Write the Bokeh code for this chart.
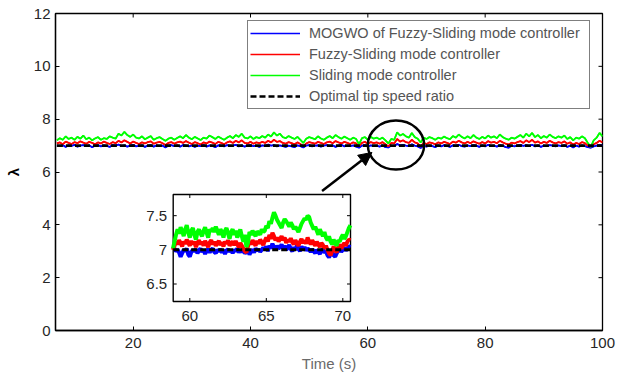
import numpy as np
from bokeh.plotting import figure
from bokeh.models import (Range1d, Legend, LegendItem, Arrow, NormalHead, FixedTicker)
from bokeh.core.properties import value
from bokeh.embed import file_html
from bokeh.resources import INLINE

# ---------------- data ----------------
# main view sampling grid (s)
time = [7.0 + 0.5 * i for i in range(187)]

sliding = [
    7.20, 7.28, 7.22, 7.35, 7.25, 7.30, 7.22, 7.33, 7.26, 7.38,
    7.24, 7.30, 7.20, 7.27, 7.32, 7.22, 7.28, 7.25, 7.35, 7.30,
    7.26, 7.45, 7.38, 7.52, 7.40, 7.33, 7.42, 7.30, 7.27, 7.35,
    7.24, 7.30, 7.36, 7.22, 7.28, 7.32, 7.25, 7.18, 7.26, 7.30,
    7.22, 7.29, 7.35, 7.28, 7.40, 7.30, 7.24, 7.33, 7.27, 7.21,
    7.30, 7.26, 7.38, 7.32, 7.25, 7.34, 7.28, 7.22, 7.30, 7.36,
    7.28, 7.40, 7.33, 7.45, 7.30, 7.27, 7.35, 7.25, 7.32, 7.28,
    7.36, 7.30, 7.42, 7.34, 7.50, 7.38, 7.45, 7.32, 7.28, 7.36,
    7.30, 7.25, 7.33, 7.22, 7.10, 7.26, 7.32, 7.28, 7.24, 7.35,
    7.27, 7.22, 7.30, 7.36, 7.28, 7.40, 7.32, 7.26, 7.34, 7.28,
    7.22, 7.30, 7.25, 7.05, 7.28, 7.32, 7.22, 7.33, 7.26, 7.30,
    7.24, 7.30, 7.20, 7.08, 7.25, 7.22, 7.50, 7.38, 7.44, 7.35,
    7.30, 7.48, 7.32, 7.26, 7.12, 7.30, 7.25, 7.32, 7.28, 7.22,
    7.30, 7.26, 7.34, 7.28, 7.24, 7.36, 7.30, 7.42, 7.33, 7.27,
    7.35, 7.28, 7.40, 7.30, 7.25, 7.33, 7.27, 7.38, 7.30, 7.35,
    7.28, 7.42, 7.32, 7.26, 7.22, 7.30, 7.26, 7.33, 7.40, 7.30,
    7.45, 7.35, 7.48, 7.32, 7.40, 7.28, 7.36, 7.30, 7.42, 7.33,
    7.28, 7.35, 7.30, 7.38, 7.25, 7.32, 7.20, 7.30, 7.26, 7.35,
    7.28, 7.10, 6.95, 7.20, 7.30, 7.48, 7.35]

fuzzy = [
    7.08, 7.12, 7.05, 7.15, 7.10, 7.06, 7.13, 7.09, 7.16, 7.11,
    7.07, 7.14, 7.10, 7.05, 7.12, 7.08, 7.15, 7.10, 7.06, 7.13,
    7.09, 7.18, 7.12, 7.20, 7.14, 7.08, 7.15, 7.10, 7.06, 7.12,
    7.08, 7.13, 7.16, 7.07, 7.11, 7.14, 7.09, 7.02, 7.10, 7.13,
    7.07, 7.12, 7.15, 7.10, 7.17, 7.11, 7.06, 7.13, 7.09, 7.04,
    7.12, 7.08, 7.15, 7.11, 7.06, 7.14, 7.10, 7.05, 7.12, 7.16,
    7.10, 7.18, 7.12, 7.20, 7.10, 7.08, 7.14, 7.07, 7.12, 7.09,
    7.14, 7.10, 7.18, 7.12, 7.22, 7.14, 7.17, 7.10, 7.07, 7.13,
    7.09, 7.05, 7.12, 7.06, 6.98, 7.08, 7.13, 7.10, 7.07, 7.14,
    7.10, 7.06, 7.12, 7.15, 7.09, 7.17, 7.12, 7.08, 7.14, 7.10,
    7.06, 7.12, 7.08, 6.98, 7.10, 7.14, 7.07, 7.13, 7.09, 7.12,
    7.07, 7.13, 7.05, 6.97, 7.10, 7.08, 7.25, 7.15, 7.20, 7.13,
    7.10, 7.22, 7.12, 7.08, 6.96, 7.10, 7.06, 7.12, 7.09, 7.05,
    7.12, 7.08, 7.14, 7.10, 7.06, 7.15, 7.11, 7.18, 7.12, 7.08,
    7.14, 7.09, 7.16, 7.11, 7.07, 7.13, 7.08, 7.17, 7.11, 7.14,
    7.09, 7.18, 7.12, 7.07, 7.04, 7.11, 7.08, 7.13, 7.17, 7.10,
    7.20, 7.13, 7.22, 7.11, 7.16, 7.08, 7.14, 7.10, 7.18, 7.12,
    7.08, 7.13, 7.10, 7.16, 7.07, 7.12, 7.04, 7.10, 7.06, 7.13,
    7.09, 7.00, 6.96, 7.05, 7.10, 7.18, 7.12]

mogwo = [
    7.00, 6.98, 7.02, 6.95, 7.01, 6.99, 7.03, 6.96, 7.00, 7.02,
    6.98, 7.01, 6.94, 7.00, 7.02, 6.97, 7.01, 6.99, 6.95, 7.02,
    7.00, 7.04, 6.98, 7.01, 6.96, 7.00, 7.03, 6.97, 6.99, 7.01,
    6.95, 7.00, 7.02, 6.96, 7.01, 6.98, 7.00, 6.93, 7.00, 7.02,
    6.98, 7.01, 6.96, 7.02, 7.00, 6.97, 7.01, 6.95, 7.00, 6.98,
    7.02, 6.96, 7.01, 6.99, 6.94, 7.01, 7.00, 6.97, 7.02, 6.99,
    7.00, 7.03, 6.97, 7.01, 6.96, 7.00, 7.02, 6.98, 7.00, 6.95,
    7.01, 6.99, 7.04, 7.00, 7.02, 6.97, 7.01, 6.98, 6.95, 7.00,
    6.97, 6.94, 7.01, 6.98, 6.93, 7.00, 7.02, 6.97, 7.00, 7.01,
    6.96, 7.00, 7.02, 6.98, 7.01, 6.95, 7.00, 7.03, 6.97, 7.00,
    6.98, 7.01, 6.96, 6.92, 7.00, 7.02, 6.97, 7.01, 6.99, 7.00,
    6.96, 7.01, 6.94, 6.93, 7.00, 6.98, 7.06, 7.01, 7.03, 7.00,
    6.98, 7.05, 7.00, 6.97, 6.91, 7.00, 6.96, 7.01, 6.98, 6.94,
    7.01, 6.97, 7.02, 6.99, 6.95, 7.01, 7.00, 7.03, 6.98, 6.96,
    7.01, 6.98, 7.02, 7.00, 6.95, 7.01, 6.97, 7.03, 6.99, 7.00,
    6.96, 7.02, 7.00, 6.94, 6.92, 7.00, 6.97, 7.01, 7.03, 6.99,
    7.02, 6.98, 7.03, 6.97, 7.01, 6.95, 7.00, 6.98, 7.02, 7.00,
    6.97, 7.01, 6.98, 7.02, 6.95, 7.00, 6.93, 7.00, 6.96, 7.01,
    6.98, 6.94, 6.92, 6.97, 7.00, 7.03, 7.01]

optimal_ratio = 7.0

# zoomed (inset) sampling grid (s)
inset_time = [58.9 + 0.1 * i for i in range(117)]

inset_sliding = [
    7.02, 7.12, 7.22, 7.30, 7.24, 7.33, 7.28, 7.20, 7.30, 7.36,
    7.25, 7.18, 7.28, 7.32, 7.22, 7.15, 7.26, 7.30, 7.24, 7.20,
    7.28, 7.33, 7.25, 7.18, 7.30, 7.27, 7.32, 7.26, 7.34, 7.28,
    7.22, 7.30, 7.26, 7.18, 7.28, 7.32, 7.24, 7.16, 7.26, 7.30,
    7.22, 7.28, 7.18, 7.24, 7.30, 7.20, 7.12, 7.22, 7.04, 7.10,
    7.26, 7.22, 7.28, 7.24, 7.20, 7.27, 7.25, 7.22, 7.30, 7.26,
    7.28, 7.35, 7.32, 7.42, 7.38, 7.47, 7.55, 7.50, 7.44, 7.40,
    7.36, 7.32, 7.40, 7.45, 7.42, 7.38, 7.34, 7.40, 7.36, 7.30,
    7.34, 7.30, 7.26, 7.32, 7.38, 7.42, 7.46, 7.44, 7.50, 7.48,
    7.40, 7.35, 7.30, 7.34, 7.28, 7.22, 7.30, 7.25, 7.20, 7.26,
    7.18, 7.14, 7.20, 7.12, 7.08, 7.15, 7.10, 7.06, 7.14, 7.12,
    7.18, 7.22, 7.16, 7.20, 7.26, 7.32, 7.36]

inset_fuzzy = [
    7.00, 7.06, 7.12, 7.08, 7.14, 7.10, 7.05, 7.12, 7.09, 7.15,
    7.10, 7.06, 7.13, 7.08, 7.12, 7.04, 7.10, 7.14, 7.08, 7.12,
    7.06, 7.13, 7.09, 7.04, 7.11, 7.14, 7.08, 7.12, 7.06, 7.10,
    7.13, 7.07, 7.11, 7.05, 7.12, 7.09, 7.14, 7.06, 7.10, 7.12,
    7.07, 7.13, 7.08, 7.04, 7.10, 7.06, 7.02, 6.98, 6.96, 7.05,
    7.12, 7.08, 7.14, 7.10, 7.06, 7.13, 7.09, 7.15, 7.11, 7.07,
    7.13, 7.18, 7.12, 7.22, 7.16, 7.25, 7.20, 7.14, 7.18, 7.12,
    7.16, 7.20, 7.14, 7.18, 7.10, 7.15, 7.12, 7.17, 7.11, 7.08,
    7.14, 7.10, 7.06, 7.12, 7.16, 7.10, 7.14, 7.09, 7.18, 7.12,
    7.08, 7.14, 7.10, 7.06, 7.12, 7.08, 7.04, 7.10, 7.07, 7.02,
    7.06, 7.00, 6.95, 6.92, 6.98, 7.05, 7.00, 6.96, 7.04, 7.08,
    7.02, 7.06, 7.10, 7.06, 7.12, 7.15, 7.14]

inset_mogwo = [
    7.00, 7.02, 6.98, 7.00, 6.96, 6.90, 6.95, 7.00, 6.98, 7.02,
    6.93, 6.90, 6.97, 7.00, 6.98, 7.01, 6.95, 6.99, 7.02, 6.97,
    7.00, 6.94, 6.99, 7.01, 6.96, 7.00, 7.02, 6.97, 6.95, 7.00,
    6.98, 7.01, 6.96, 7.00, 6.94, 6.99, 7.01, 6.97, 7.00, 6.95,
    7.00, 6.98, 7.02, 6.96, 7.00, 6.97, 6.99, 6.95, 6.97, 7.00,
    6.93, 6.98, 7.00, 6.96, 7.02, 6.99, 7.01, 6.97, 7.00, 7.03,
    7.00, 7.05, 6.98, 7.06, 7.02, 7.09, 7.04, 7.00, 7.06, 7.02,
    7.04, 7.08, 7.02, 7.06, 7.00, 7.03, 7.07, 7.01, 6.98, 7.04,
    7.00, 7.06, 7.02, 6.98, 7.05, 7.01, 7.04, 6.99, 7.02, 7.00,
    6.97, 7.01, 6.98, 6.95, 7.00, 6.97, 6.94, 6.99, 7.01, 6.96,
    6.98, 6.92, 6.89, 6.94, 6.97, 6.92, 6.90, 6.95, 6.99, 7.02,
    6.97, 7.00, 7.03, 6.99, 7.02, 7.05, 7.04]

x_ticks = [20, 40, 60, 80, 100]
y_ticks = [0, 2, 4, 6, 8, 10, 12]
inset_x_ticks = [60, 65, 70]
inset_y_ticks = [6.5, 7, 7.5]
inset_x_labels = ["60", "65", "70"]
inset_y_labels = ["6.5", "7", "7.5"]

labels = ["MOGWO of Fuzzy-Sliding mode controller", "Fuzzy-Sliding mode controller",
          "Sliding mode controller", "Optimal tip speed ratio"]
colors = ["#0000FF", "#FF0000", "#00FF00", "#000000"]

# ---------------- layout ----------------
FONT = "Liberation Sans"
W, H = 621, 376
fl, fr, ft, fb = 55, 602, 13, 330          # frame box inside the figure (px)
x_lo, x_hi = 6.76, 100.0
y_lo, y_hi = 0.0, 12.0
upx = (x_hi - x_lo) / (fr - fl)
upy = (y_hi - y_lo) / (fb - ft)

# inset box in figure px and its data limits
ib_l, ib_r, ib_t, ib_b = 172.7, 350.0, 194.0, 301.0
ix_lo, ix_hi = 58.915, 70.503
iy_lo, iy_hi = 6.244, 7.81
ux = (ix_hi - ix_lo) / (ib_r - ib_l)
uy = (iy_hi - iy_lo) / (ib_b - ib_t)
ex_start = ix_lo - (ib_l - fl) * ux
ex_end = ix_hi + (fr - ib_r) * ux
ey_start = iy_lo - (fb - ib_b) * uy
ey_end = iy_hi + (ib_t - ft) * uy

p = figure(width=W, height=H, output_backend="svg", toolbar_location=None,
           x_range=Range1d(x_lo, x_hi), y_range=Range1d(y_lo, y_hi),
           min_border_left=fl, min_border_right=W - fr, min_border_top=ft,
           min_border_bottom=H - fb)
p.extra_x_ranges = {"ix": Range1d(ex_start, ex_end)}
p.extra_y_ranges = {"iy": Range1d(ey_start, ey_end)}
p.xgrid.visible = False
p.ygrid.visible = False
p.outline_line_color = "black"
p.outline_line_width = 1.3
p.background_fill_color = "white"
p.border_fill_color = "white"

for ax, ticks in ((p.xaxis[0], x_ticks), (p.yaxis[0], y_ticks)):
    ax.ticker = FixedTicker(ticks=ticks)
    ax.minor_tick_line_color = None
    ax.major_tick_in = 4
    ax.major_tick_out = 0
    ax.axis_line_width = 1.3
    ax.major_tick_line_width = 1
    ax.major_label_text_font = FONT
    ax.major_label_text_font_size = "15px"
    ax.major_label_text_color = "#262626"
    ax.axis_label_text_font = FONT

p.xaxis.axis_label = "Time (s)"
p.xaxis.axis_label_text_font_style = "normal"
p.xaxis.axis_label_text_font_size = "15px"
p.xaxis.axis_label_text_color = "#6a6a6a"
p.xaxis.major_label_standoff = 7
p.xaxis.axis_label_standoff = 4

p.yaxis.axis_label = "λ"
p.yaxis.axis_label_text_font_style = "bold"
p.yaxis.axis_label_text_font_size = "15px"
p.yaxis.axis_label_text_color = "#000000"
p.yaxis.major_label_standoff = 5
p.yaxis.axis_label_standoff = 9

# inward ticks on the right and top frame edges
p.segment(x0=[x_hi] * len(y_ticks), y0=y_ticks, x1=[x_hi - 4 * upx] * len(y_ticks),
          y1=y_ticks, line_color="black", line_width=1)
p.segment(x0=x_ticks, y0=[y_hi] * len(x_ticks), x1=x_ticks,
          y1=[y_hi - 4 * upy] * len(x_ticks), line_color="black", line_width=1)

# thin proxies for the legend (hidden under the thicker traces)
proxies = [p.line(time, s, line_color=c, line_width=1.4)
           for s, c in zip((mogwo, fuzzy, sliding), colors[:3])]

# main lines
p.line(time, mogwo, line_color=colors[0], line_width=1.8)
p.line(time, fuzzy, line_color=colors[1], line_width=1.8)
p.line(time, sliding, line_color=colors[2], line_width=1.8)
opt_r = p.line([time[0], time[-1]], [optimal_ratio, optimal_ratio], line_color="black",
               line_width=2.6, line_dash="6 3")
proxies.append(opt_r)

# ellipse highlight and arrow
ell_x, ell_y, ell_w, ell_h = 64.8, 7.02, 9.6, 1.86
p.ellipse(x=[ell_x], y=[ell_y], width=ell_w, height=ell_h, fill_color=None,
          line_color="black", line_width=2.5)
arr_x0, arr_y0, arr_x1, arr_y1 = 52.2, 5.28, 60.7, 6.74
p.add_layout(Arrow(end=NormalHead(size=13, fill_color="black", line_color="black"),
                   x_start=arr_x0, y_start=arr_y0, x_end=arr_x1, y_end=arr_y1,
                   line_width=2.5, line_color="black"))

# inset
kw = dict(x_range_name="ix", y_range_name="iy")
p.quad(left=[ix_lo], right=[ix_hi], bottom=[iy_lo], top=[iy_hi], fill_color="white",
       line_color="black", line_width=1.4, **kw)
p.line(inset_time, inset_mogwo, line_color=colors[0], line_width=4, **kw)
p.line(inset_time, inset_fuzzy, line_color=colors[1], line_width=4, **kw)
p.line(inset_time, inset_sliding, line_color=colors[2], line_width=4, **kw)
p.line([ix_lo, ix_hi], [optimal_ratio, optimal_ratio], line_color="black",
       line_width=3, line_dash="6 3", **kw)

tk = 3.5
n = len(inset_x_ticks)
m = len(inset_y_ticks)
p.segment(x0=inset_x_ticks, y0=[iy_lo] * n, x1=inset_x_ticks, y1=[iy_lo + tk * uy] * n,
          line_color="black", line_width=1, **kw)
p.segment(x0=inset_x_ticks, y0=[iy_hi] * n, x1=inset_x_ticks, y1=[iy_hi - tk * uy] * n,
          line_color="black", line_width=1, **kw)
p.segment(x0=[ix_lo] * m, y0=inset_y_ticks, x1=[ix_lo + tk * ux] * m, y1=inset_y_ticks,
          line_color="black", line_width=1, **kw)
p.segment(x0=[ix_hi] * m, y0=inset_y_ticks, x1=[ix_hi - tk * ux] * m, y1=inset_y_ticks,
          line_color="black", line_width=1, **kw)
p.text(x=inset_x_ticks, y=[iy_lo] * n, text=inset_x_labels, text_align="center",
       text_baseline="top", y_offset=9, text_font=value(FONT), text_font_size="15px",
       text_color="#262626", **kw)
p.text(x=[ix_lo] * m, y=inset_y_ticks, text=inset_y_labels, text_align="right",
       text_baseline="middle", x_offset=-6, text_font=value(FONT), text_font_size="15px",
       text_color="#262626", **kw)

legend = Legend(items=[LegendItem(label=l, renderers=[r]) for l, r in zip(labels, proxies)],
                location=(192, 221), border_line_color="black", border_line_width=1.4,
                background_fill_color="white", background_fill_alpha=1.0,
                label_text_font=FONT, label_text_font_size="14.5px",
                label_text_color="#555555", glyph_width=50, glyph_height=20,
                label_height=20, spacing=1, padding=2, label_standoff=9, margin=0,
                label_width=278)
p.add_layout(legend, "center")

open("out.html", "w").write(file_html(p, INLINE))
